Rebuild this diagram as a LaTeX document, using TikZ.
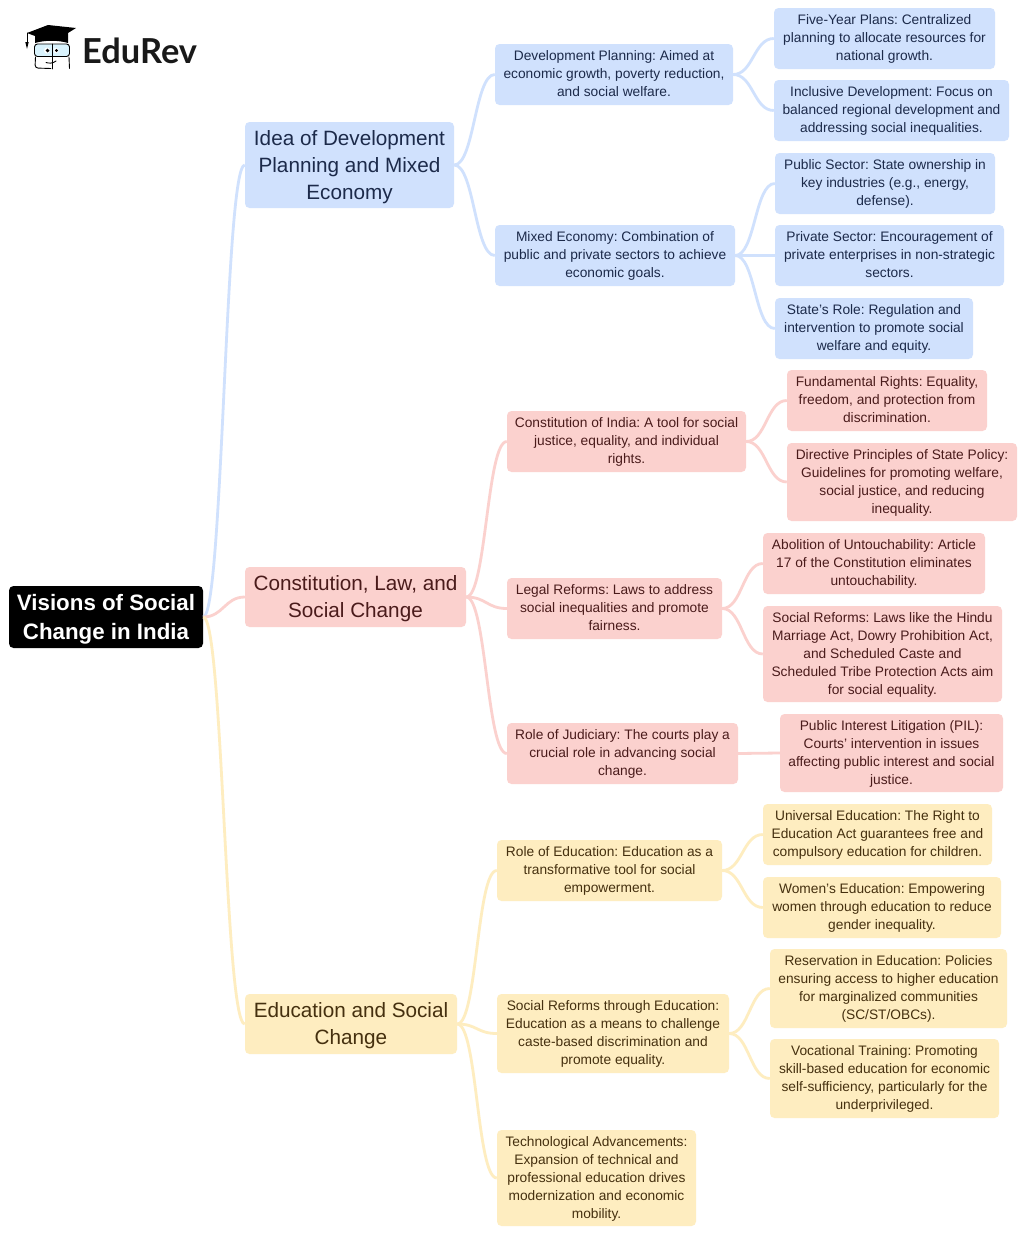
\documentclass[tikz,border=0pt]{standalone}
\usepackage{fontspec}
\setmainfont{Liberation Sans}
\newfontfamily\logofont{Lato}
\definecolor{bluebox}{HTML}{D0E1FD}
\definecolor{redbox}{HTML}{FBD1CE}
\definecolor{yelbox}{HTML}{FEEDC0}
\definecolor{bluetxt}{HTML}{1C2A4A}
\definecolor{redtxt}{HTML}{4A1B1B}
\definecolor{yeltxt}{HTML}{45300F}
\def\tdrop{0.7pt}
\tikzset{
 box/.style={rounded corners=4.5pt,inner sep=0pt,align=center,draw=none},
 big/.style={font=\frenchspacing\fontsize{20.7}{27}\selectfont,execute at begin node={\def\tdrop{2pt}}},
 small/.style={font=\frenchspacing\fontsize{13.75}{18}\selectfont},
 bluen/.style={box,fill=bluebox,text=bluetxt},
 redn/.style={box,fill=redbox,text=redtxt},
 yeln/.style={box,fill=yelbox,text=yeltxt},
 rootn/.style={box,fill=black,text=white,font=\fontsize{22.3}{29}\selectfont\bfseries,execute at begin node={\def\tdrop{2.4pt}}},
 link/.style={line width=2.8pt,out=0,in=180,out distance=20pt,in distance=20pt},
 bluel/.style={link,draw=bluebox},
 redl/.style={link,draw=redbox},
 yell/.style={link,draw=yelbox},
 logoline/.style={black,line width=0.9pt,line cap=round},
}
\newcommand{\bx}[7]{\node[#2,minimum width={(#5-#3)*1pt},minimum height={(#6-#4)*1pt}] (#1) at ({(#3+#5)/2},{(#4+#6)/2}) {\raisebox{-\tdrop}[\height][\depth]{\begin{tabular}{@{}c@{}}#7\end{tabular}}};}
\begin{document}
\begin{tikzpicture}[x=1pt,y=-1pt]
\useasboundingbox (0,0) rectangle (1024,1234);
\fill[white] (0,0) rectangle (1024,1234);
% nodes
\bx{root}{rootn}{9}{586}{203}{648}{Visions of Social\\Change in India}
\bx{A}{bluen,big}{245}{122}{454}{208}{Idea of Development\\Planning and Mixed\\Economy}
\bx{B}{redn,big}{245}{567}{466}{627}{Constitution, Law, and\\Social Change}
\bx{C}{yeln,big}{245}{994}{457}{1054}{Education and Social\\Change}
\bx{A1}{bluen,small}{495}{44}{733}{105}{Development Planning: Aimed at\\economic growth, poverty reduction,\\and social welfare.}
\bx{A2}{bluen,small}{495}{225}{735}{286}{Mixed Economy: Combination of\\public and private sectors to achieve\\economic goals.}
\bx{A11}{bluen,small}{774}{8}{995}{69}{Five-Year Plans: Centralized\\planning to allocate resources for\\national growth.}
\bx{A12}{bluen,small}{774}{80}{1009}{141}{Inclusive Development: Focus on\\balanced regional development and\\addressing social inequalities.}
\bx{A21}{bluen,small}{775}{153}{995}{214}{Public Sector: State ownership in\\key industries (e.g., energy,\\defense).}
\bx{A22}{bluen,small}{775}{225}{1004}{286}{Private Sector: Encouragement of\\private enterprises in non-strategic\\sectors.}
\bx{A23}{bluen,small}{775}{298}{973}{359}{State’s Role: Regulation and\\intervention to promote social\\welfare and equity.}
\bx{B1}{redn,small}{507}{411}{746}{472}{Constitution of India: A tool for social\\justice, equality, and individual\\rights.}
\bx{B2}{redn,small}{507}{578}{722}{639}{Legal Reforms: Laws to address\\social inequalities and promote\\fairness.}
\bx{B3}{redn,small}{507}{723}{738}{784}{Role of Judiciary: The courts play a\\crucial role in advancing social\\change.}
\bx{B11}{redn,small}{787}{370}{987}{431}{Fundamental Rights: Equality,\\freedom, and protection from\\discrimination.}
\bx{B12}{redn,small}{787}{443}{1017}{521}{Directive Principles of State Policy:\\Guidelines for promoting welfare,\\social justice, and reducing\\inequality.}
\bx{B21}{redn,small}{763}{533}{985}{594}{Abolition of Untouchability: Article\\17 of the Constitution eliminates\\untouchability.}
\bx{B22}{redn,small}{763}{606}{1002}{702}{Social Reforms: Laws like the Hindu\\Marriage Act, Dowry Prohibition Act,\\and Scheduled Caste and\\Scheduled Tribe Protection Acts aim\\for social equality.}
\bx{B31}{redn,small}{780}{714}{1003}{792}{Public Interest Litigation (PIL):\\Courts’ intervention in issues\\affecting public interest and social\\justice.}
\bx{C1}{yeln,small}{497}{840}{722}{901}{Role of Education: Education as a\\transformative tool for social\\empowerment.}
\bx{C2}{yeln,small}{497}{994}{729}{1073}{Social Reforms through Education:\\Education as a means to challenge\\caste-based discrimination and\\promote equality.}
\bx{C3}{yeln,small}{497}{1130}{696}{1226}{Technological Advancements:\\Expansion of technical and\\professional education drives\\modernization and economic\\mobility.}
\bx{C11}{yeln,small}{763}{804}{992}{865}{Universal Education: The Right to\\Education Act guarantees free and\\compulsory education for children.}
\bx{C12}{yeln,small}{763}{877}{1001}{938}{Women's Education: Empowering\\women through education to reduce\\gender inequality.}
\bx{C21}{yeln,small}{770}{949}{1007}{1028}{Reservation in Education: Policies\\ensuring access to higher education\\for marginalized communities\\(SC/ST/OBCs).}
\bx{C22}{yeln,small}{770}{1039}{999}{1118}{Vocational Training: Promoting\\skill-based education for economic\\self-sufficiency, particularly for the\\underprivileged.}
% connectors
\draw[bluel] (root.east) to (A.west);
\draw[redl] (root.east) to (B.west);
\draw[yell] (root.east) to (C.west);
\draw[bluel] (A.east) to (A1.west);
\draw[bluel] (A.east) to (A2.west);
\draw[redl] (B.east) to (B1.west);
\draw[redl] (B.east) to (B2.west);
\draw[redl] (B.east) to (B3.west);
\draw[yell] (C.east) to (C1.west);
\draw[yell] (C.east) to (C2.west);
\draw[yell] (C.east) to (C3.west);
\draw[bluel] (A1.east) to (A11.west);
\draw[bluel] (A1.east) to (A12.west);
\draw[bluel] (A2.east) to (A21.west);
\draw[bluel] (A2.east) to (A22.west);
\draw[bluel] (A2.east) to (A23.west);
\draw[redl] (B1.east) to (B11.west);
\draw[redl] (B1.east) to (B12.west);
\draw[redl] (B2.east) to (B21.west);
\draw[redl] (B2.east) to (B22.west);
\draw[redl] (B3.east) to (B31.west);
\draw[yell] (C1.east) to (C11.west);
\draw[yell] (C1.east) to (C12.west);
\draw[yell] (C2.east) to (C21.west);
\draw[yell] (C2.east) to (C22.west);
% logo
\node[font=\logofont\fontsize{34.4}{34}\selectfont\bfseries,text=black!90,anchor=west,inner sep=0pt] (logotext) at (82,51) {EduRev};
\fill[black] (27,33) -- (48,25) -- (76,28) -- (68,33) -- (68,43) .. controls (58,40) and (45,40) .. (35,43) -- (35,36) -- cycle;
\draw[logoline] (27,33) -- (27,43);
\fill[black] (25.3,42) -- (28.7,42) -- (27,49) -- cycle;
\fill[rounded corners=3pt,fill=cyan!15,draw=black,line width=0.9pt] (34.5,44) rectangle (69.5,56.5);
\draw[logoline] (52,44) -- (52,69);
\fill[white] (47,50.5) circle (3pt) (56,50.5) circle (2.6pt);
\fill[black] (47.6,50.5) circle (1.9pt) (56.4,50.5) circle (1.6pt);
\draw[logoline,rounded corners=3pt] (35.5,57) -- (35,68) -- (51,68.5);
\draw[logoline,rounded corners=2pt] (69,57) -- (69.5,68.5);
\draw[logoline] (46,62.5) .. controls (49,63.5) and (53,63.5) .. (56,61);
\end{tikzpicture}
\end{document}
